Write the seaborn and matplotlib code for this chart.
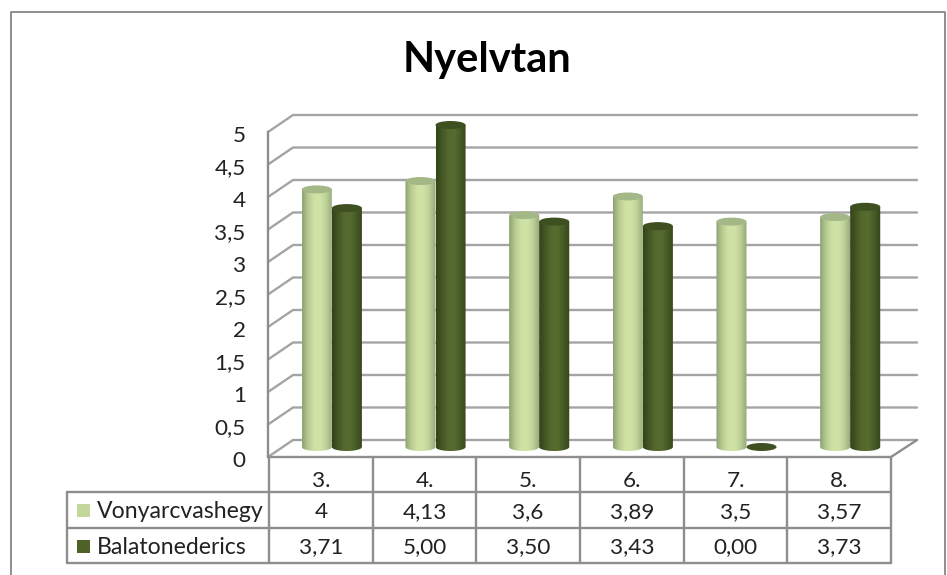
import numpy as np
import pandas as pd
import matplotlib.pyplot as plt
from matplotlib.colors import LinearSegmentedColormap
from matplotlib.patches import Ellipse, PathPatch, Rectangle
from matplotlib.path import Path
from matplotlib.transforms import ScaledTranslation
import seaborn as sns

# Chart data
grades = ["3.", "4.", "5.", "6.", "7.", "8."]
vonyarc = [4, 4.13, 3.6, 3.89, 3.5, 3.57]
balaton = [3.71, 5.00, 3.50, 3.43, 0.00, 3.73]
vonyarc_labels = ["4", "4,13", "3,6", "3,89", "3,5", "3,57"]
balaton_labels = ["3,71", "5,00", "3,50", "3,43", "0,00", "3,73"]
series_names = ["Vonyarcvashegy", "Balatonederics"]
y_ticks = [0, 0.5, 1, 1.5, 2, 2.5, 3, 3.5, 4, 4.5, 5]
y_tick_labels = ["0", "0,5", "1", "1,5", "2", "2,5", "3", "3,5", "4", "4,5", "5"]

W, H = 947, 575
LINE = "#8e8e8e"
GRID = "#a4a4a4"
TEXT = "#222222"
FONT = "Lato"

sns.set_theme(style="white")
plt.rcParams["font.family"] = [FONT, "DejaVu Sans"]

fig = plt.figure(figsize=(W / 100, H / 100), dpi=100)
fig.patch.set_facecolor("white")


def px_axes(left, top, right, bottom, **kw):
    # axes placed by pixel box, y measured from the top of the image
    return fig.add_axes([left / W, 1 - bottom / H, (right - left) / W, (bottom - top) / H], **kw)


# ---------------- background: frame, walls, table ----------------
ax_bg = px_axes(0, 0, W, H)
ax_bg.set_xlim(0, W)
ax_bg.set_ylim(H, 0)
ax_bg.axis("off")

ax_bg.plot([11, 11, 945, 945], [H, 12, 12, H], color=LINE, lw=1.4, clip_on=False)

for v in y_ticks:
    yf = 457 - 65 * v
    ax_bg.plot([268, 293, 917], [yf, yf - 17, yf - 17], color=GRID, lw=1.7,
               solid_joinstyle="miter")
ax_bg.plot([891, 917], [457, 440], color=LINE, lw=1.7)

col_x = np.linspace(269, 891, len(grades) + 1)
row_y = [457, 492, 527.5, 563]
for i, y in enumerate(row_y):
    ax_bg.plot([269 if i == 0 else 67, 891], [y, y], color=LINE, lw=1.7)
for x in col_x:
    ax_bg.plot([x, x], [row_y[0], row_y[-1]], color=LINE, lw=1.7)
ax_bg.plot([67, 67], [492, 563], color=LINE, lw=1.7)

cell_size = 16.2
for i, name in enumerate(grades):
    cx = (col_x[i] + col_x[i + 1]) / 2
    ax_bg.text(cx, 481, name, ha="center", va="center", fontsize=cell_size, color=TEXT)
    ax_bg.text(cx, 512, vonyarc_labels[i], ha="center", va="center", fontsize=cell_size, color=TEXT)
    ax_bg.text(cx, 547, balaton_labels[i], ha="center", va="center", fontsize=cell_size, color=TEXT)

swatches = ["#c3d69b", "#4f6228"]
for name, col, y in zip(series_names, swatches, [510, 546]):
    ax_bg.add_patch(Rectangle((77, y - 6.5), 13, 13, color=col, lw=0))
    ax_bg.text(97, y + 1, name, ha="left", va="center", fontsize=16.6, color=TEXT)

ax_bg.text(487, 60, "Nyelvtan", ha="center", va="center", fontsize=30, fontweight="bold",
           color="black")

# ---------------- value axis on the front edge ----------------
ax_front = px_axes(268, 132, 891, 457)
ax_front.patch.set_alpha(0)
ax_front.set_ylim(0, 5)
ax_front.set_xticks([])
ax_front.set_yticks(y_ticks)
ax_front.set_yticklabels(y_tick_labels, fontsize=cell_size, color=TEXT)
ax_front.tick_params(axis="y", length=0, pad=16)
label_shift = ScaledTranslation(0, -2 / 100, fig.dpi_scale_trans)
for lab in ax_front.get_yticklabels():
    lab.set_transform(lab.get_transform() + label_shift)
sns.despine(ax=ax_front, top=True, right=True, bottom=True)
ax_front.spines["left"].set_color(LINE)
ax_front.spines["left"].set_linewidth(1.7)

# ---------------- cylinders ----------------
df = pd.DataFrame({
    "grade": grades * 2,
    "score": vonyarc + balaton,
    "school": [series_names[0]] * len(grades) + [series_names[1]] * len(grades),
})

ax = px_axes(280, 125, 902, 447)
ax.patch.set_alpha(0)
sns.barplot(data=df, x="grade", y="score", hue="school", palette=swatches,
            width=0.58, gap=0, legend=False, ax=ax)
ax.set_xlim(-0.5, 5.5)
ax.set_ylim(0, 5)
ax.axis("off")

shades = [
    (LinearSegmentedColormap.from_list("light", ["#8fa373", "#b9cc92", "#cfe2a4", "#d0e3a6", "#bccf96", "#94a87a"]), "#a3b787"),
    (LinearSegmentedColormap.from_list("dark", ["#33431a", "#445724", "#55692e", "#566b2f", "#465a26", "#35451b"]), "#3f5020"),
]
gradient = np.linspace(0, 1, 64).reshape(1, -1)
rx_h = 4 / 64.4  # ellipse half height in data units

for container, (cmap, top_col) in zip(ax.containers, shades):
    for bar in container:
        bar.set_visible(False)
        x0, w, h = bar.get_x(), bar.get_width(), bar.get_height()
        xc = x0 + w / 2
        if h > 0:
            t = np.linspace(np.pi, 2 * np.pi, 30)
            xs = xc + w / 2 * np.cos(t)
            ys = rx_h * np.sin(t)
            verts = np.vstack([[x0, h], np.column_stack([xs, ys]), [x0 + w, h], [x0, h]])
            clip = PathPatch(Path(verts), transform=ax.transData, fc="none", ec="none")
            ax.add_patch(clip)
            im = ax.imshow(gradient, cmap=cmap, extent=[x0, x0 + w, -rx_h, h], aspect="auto",
                           zorder=3, interpolation="bilinear")
            # the rounded foot hangs below the axes box, so widen the image clip
            im.set_clip_box(fig.bbox)
            im.set_clip_path(clip)
        ax.add_patch(Ellipse((xc, h), w, 2 * rx_h, fc=top_col, ec="none", zorder=4, clip_on=False))

ax.set_xlim(-0.5, 5.5)
ax.set_ylim(0, 5)

fig.savefig("out.png", dpi=100)
plt.close(fig)
